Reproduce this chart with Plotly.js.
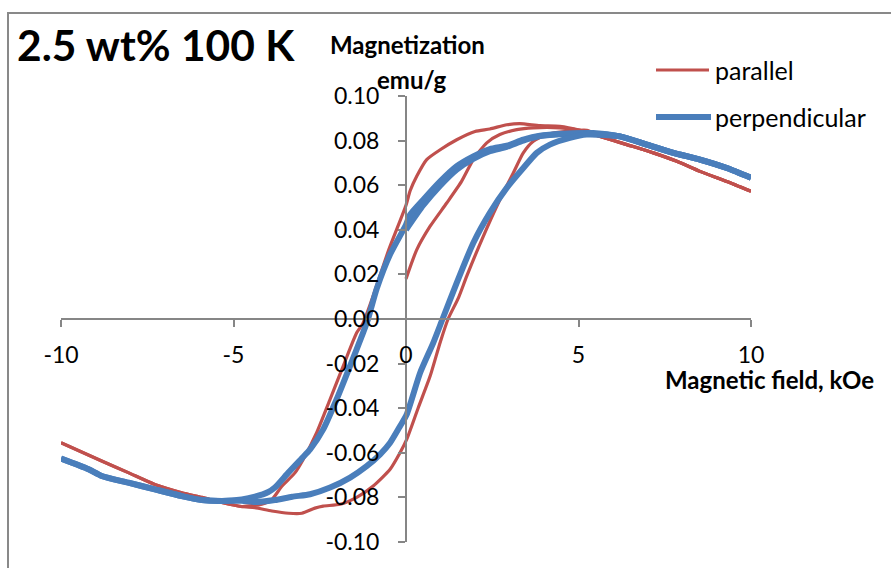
<!DOCTYPE html>
<html>
<head>
<meta charset="utf-8">
<script src="https://cdn.plot.ly/plotly-3.0.1.min.js"></script>
<style>
  html, body { margin: 0; padding: 0; background: #fff; }
  #chart { width: 891px; height: 568px; }
</style>
</head>
<body>
<div id="chart"></div>
<script>
// Hysteresis loops, 2.5 wt% sample at 100 K. Field in kOe, magnetization in emu/g.

// parallel: initial magnetization curve
const parInitH = [0, 0.31, 0.7, 1.18, 1.61, 1.95, 2.34, 2.72, 3.21, 3.69, 4.46, 5.04, 5.62, 6.4, 7.17, 7.85, 8.52, 9.3, 10];
const parInitM = [0.018, 0.031, 0.0416, 0.052, 0.0617, 0.0715, 0.079, 0.0827, 0.0849, 0.0857, 0.0857, 0.0846, 0.0819, 0.0782, 0.0745, 0.0707, 0.0662, 0.0617, 0.0573];
// parallel: descending branch (+10 -> -10)
const parDownH = [10, 9.3, 8.52, 7.85, 7.17, 6.4, 5.62, 5.04, 4.46, 3.88, 3.3, 2.92, 2.43, 2.0, 1.47, 0.99, 0.6, 0.31, 0.12, 0, -0.5, -0.99, -1.25, -1.43, -1.82, -2.2, -2.59, -2.98, -3.22, -3.6, -3.89, -4.18, -4.76, -5.34, -5.92, -6.5, -7.28, -8.05, -8.82, -10];
const parDownM = [0.0573, 0.0617, 0.0662, 0.0707, 0.0745, 0.0782, 0.0819, 0.0846, 0.0864, 0.0867, 0.0876, 0.0871, 0.0852, 0.0841, 0.0804, 0.0759, 0.0715, 0.064, 0.0575, 0.051, 0.031, 0.0087, -0.002, -0.0062, -0.0211, -0.036, -0.051, -0.063, -0.069, -0.075, -0.081, -0.083, -0.0841, -0.0823, -0.080, -0.0779, -0.0742, -0.0689, -0.0637, -0.0555];
// parallel: ascending branch (-10 -> +10)
const parUpH = [-10, -8.82, -8.05, -7.28, -6.5, -5.92, -5.34, -4.76, -4.38, -3.89, -3.4, -3.02, -2.64, -2.4, -1.91, -1.43, -0.95, -0.46, -0.17, 0.02, 0.35, 0.7, 0.99, 1.22, 1.52, 1.76, 2.24, 2.72, 3.11, 3.4, 3.69, 4.08, 4.66, 5.24, 5.62, 6.4, 7.17, 7.85, 8.52, 9.3, 10];
const parUpM = [-0.0555, -0.0637, -0.0689, -0.0742, -0.0779, -0.080, -0.0823, -0.0841, -0.0846, -0.0861, -0.0871, -0.0871, -0.0848, -0.0839, -0.0831, -0.080, -0.0749, -0.0674, -0.0599, -0.054, -0.040, -0.0256, -0.0105, 0, 0.0095, 0.0192, 0.0371, 0.0535, 0.0655, 0.0745, 0.0797, 0.0827, 0.0841, 0.0846, 0.0819, 0.0782, 0.0745, 0.0707, 0.0662, 0.0617, 0.0573];

// perpendicular: initial magnetization curve
const perInitH = [0, 0.5, 0.99, 1.47, 1.95, 2.43, 2.92, 3.4, 3.88, 4.56, 5.24, 6.2, 6.98, 7.75, 8.52, 9.3, 10];
const perInitM = [0.040, 0.051, 0.0598, 0.067, 0.0718, 0.0752, 0.0772, 0.0800, 0.0820, 0.0830, 0.0831, 0.0819, 0.0782, 0.0745, 0.0715, 0.0677, 0.0633];
// perpendicular: descending branch (+10 -> -10)
const perDownH = [10, 9.3, 8.52, 7.75, 6.98, 6.2, 5.43, 4.56, 3.88, 3.4, 2.92, 2.43, 1.95, 1.47, 0.99, 0.5, 0.12, 0, -0.46, -0.85, -1.1, -1.24, -1.62, -2.01, -2.4, -2.78, -3.02, -3.41, -3.8, -3.99, -4.38, -4.76, -5.34, -5.92, -6.5, -7.28, -8.05, -8.82, -9.2, -10];
const perDownM = [0.0633, 0.0677, 0.0715, 0.0745, 0.0782, 0.0819, 0.0834, 0.0831, 0.0822, 0.0804, 0.0777, 0.0762, 0.0729, 0.0685, 0.0617, 0.0535, 0.0468, 0.0423, 0.029, 0.0135, 0.0, -0.006, -0.021, -0.036, -0.0495, -0.0585, -0.0625, -0.0689, -0.0756, -0.0776, -0.0797, -0.0809, -0.0816, -0.0812, -0.0794, -0.0764, -0.0734, -0.0704, -0.0674, -0.0626];
// perpendicular: ascending branch (-10 -> +10)
const perUpH = [-10, -9.2, -8.82, -8.05, -7.28, -6.5, -5.92, -5.34, -4.76, -4.38, -3.8, -3.3, -2.78, -2.2, -1.62, -1.14, -0.75, -0.46, -0.17, 0.02, 0.41, 0.79, 1.06, 1.47, 1.95, 2.43, 2.92, 3.4, 3.79, 4.17, 4.75, 5.24, 6.2, 6.98, 7.75, 8.52, 9.3, 10];
const perUpM = [-0.0626, -0.0674, -0.0704, -0.0734, -0.0764, -0.0794, -0.0812, -0.0816, -0.0815, -0.0821, -0.0812, -0.0797, -0.0786, -0.0756, -0.0711, -0.066, -0.0607, -0.0555, -0.048, -0.0428, -0.0241, -0.0107, 0, 0.0162, 0.0341, 0.0476, 0.0588, 0.0677, 0.0745, 0.0782, 0.0812, 0.0827, 0.0819, 0.0782, 0.0745, 0.0715, 0.0677, 0.0633];

const xTickVals = [-10, -5, 0, 5, 10];
const xTickText = ['-10', '-5', '0', '5', '10'];
const yTickVals = [-0.10, -0.08, -0.06, -0.04, -0.02, 0.00, 0.02, 0.04, 0.06, 0.08, 0.10];
const yTickText = ['-0.10', '-0.08', '-0.06', '-0.04', '-0.02', '0.00', '0.02', '0.04', '0.06', '0.08', '0.10'];

const seriesNames = ['parallel', 'perpendicular'];
const seriesColors = ['#C0504D', '#4A7EBB'];
const seriesWidths = [3.2, 6];

// page geometry
const W = 891, H = 568;
const M = { l: 61, r: 140, t: 96, b: 26 };
const PW = W - M.l - M.r, PH = H - M.t - M.b;
const px = x => (x - M.l) / PW;           // page pixel -> paper x
const py = y => (H - M.b - y) / PH;       // page pixel -> paper y

const FONT = 'Lato, "Open Sans", sans-serif';
const AX = '#868686';

function branch(h, m, i) {
  return {
    x: h, y: m, type: 'scatter', mode: 'lines', name: seriesNames[i],
    showlegend: false, hoverinfo: 'skip',
    line: { color: seriesColors[i], width: seriesWidths[i], shape: 'spline', smoothing: 0.6 }
  };
}

const data = [
  branch(parInitH, parInitM, 0),
  branch(parDownH, parDownM, 0),
  branch(parUpH, parUpM, 0),
  branch(perInitH, perInitM, 1),
  branch(perDownH, perDownM, 1),
  branch(perUpH, perUpM, 1)
];

const layout = {
  width: W, height: H,
  margin: M,
  paper_bgcolor: '#fff', plot_bgcolor: '#fff',
  font: { family: FONT, color: '#000' },
  showlegend: false,
  xaxis: {
    range: [-10, 10], anchor: 'free', position: 0.5,
    showgrid: false, zeroline: false,
    showline: true, linecolor: AX, linewidth: 2,
    ticks: 'outside', ticklen: 7, tickwidth: 2, tickcolor: AX,
    tickmode: 'array', tickvals: xTickVals, ticktext: xTickText,
    tickfont: { family: FONT, size: 23, color: '#000' },
    ticklabelstandoff: 8,
    fixedrange: true
  },
  yaxis: {
    range: [-0.1, 0.1], anchor: 'free', position: 0.5,
    showgrid: false, zeroline: false,
    showline: true, linecolor: AX, linewidth: 2,
    ticks: 'outside', ticklen: 7, tickwidth: 2, tickcolor: AX,
    tickmode: 'array', tickvals: yTickVals, ticktext: yTickText,
    tickfont: { family: FONT, size: 23, color: '#000' },
    ticklabelstandoff: 14,
    fixedrange: true
  },
  shapes: [
    { type: 'rect', xref: 'paper', yref: 'paper', x0: px(8), y0: py(13), x1: px(W + 10), y1: py(H + 10),
      line: { color: '#898989', width: 2 }, fillcolor: 'rgba(0,0,0,0)' },
    { type: 'line', xref: 'paper', yref: 'paper', x0: px(656), x1: px(709), y0: py(70), y1: py(70),
      line: { color: seriesColors[0], width: seriesWidths[0] } },
    { type: 'line', xref: 'paper', yref: 'paper', x0: px(656), x1: px(711), y0: py(117), y1: py(117),
      line: { color: seriesColors[1], width: seriesWidths[1] } }
  ],
  annotations: [
    { text: '<b>2.5 wt% 100 K</b>', xref: 'paper', yref: 'paper', x: px(15), y: py(44),
      xanchor: 'left', yanchor: 'middle', showarrow: false, font: { family: FONT, size: 42.5, color: '#000' } },
    { text: '<b>Magnetization</b>', xref: 'paper', yref: 'paper', x: px(407), y: py(44),
      xanchor: 'center', yanchor: 'middle', showarrow: false, font: { family: FONT, size: 24, color: '#000' } },
    { text: '<b>emu/g</b>', xref: 'paper', yref: 'paper', x: px(412), y: py(80),
      xanchor: 'center', yanchor: 'middle', showarrow: false, font: { family: FONT, size: 24, color: '#000' } },
    { text: '<b>Magnetic field, kOe</b>', xref: 'paper', yref: 'paper', x: px(663), y: py(379),
      xanchor: 'left', yanchor: 'middle', showarrow: false, font: { family: FONT, size: 24, color: '#000' } },
    { text: seriesNames[0], xref: 'paper', yref: 'paper', x: px(713), y: py(70),
      xanchor: 'left', yanchor: 'middle', showarrow: false, font: { family: FONT, size: 25, color: '#000' } },
    { text: seriesNames[1], xref: 'paper', yref: 'paper', x: px(713), y: py(117),
      xanchor: 'left', yanchor: 'middle', showarrow: false, font: { family: FONT, size: 25, color: '#000' } }
  ]
};

Plotly.newPlot('chart', data, layout, { staticPlot: true, displayModeBar: false });
</script>
</body>
</html>
